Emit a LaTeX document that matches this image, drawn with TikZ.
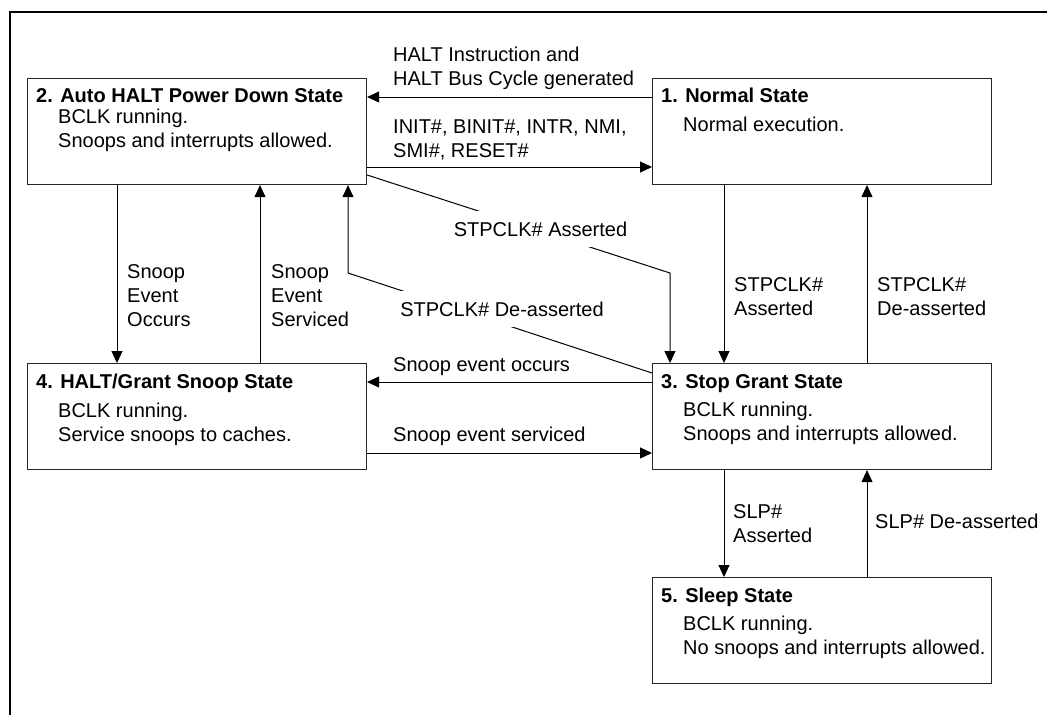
\documentclass[tikz,border=0pt]{standalone}
\usepackage{fontspec}
\setmainfont{Liberation Sans}
\usetikzlibrary{positioning, arrows.meta}

\begin{document}
\begin{tikzpicture}[x=1pt, y=-1pt,
  every node/.style={font=\fontsize{20}{24}\selectfont, inner sep=0pt},
  statebox/.style={draw=black!85, line width=1.1pt, minimum width=339pt,
    minimum height=106pt, anchor=north west},
  title/.style={font=\fontsize{20}{24}\selectfont\bfseries, anchor=base west},
  body/.style={align=left, anchor=base west},
  flow/.style={line width=1pt, -{Triangle[length=12pt, width=11pt]}},
  onflow/.style={fill=white, minimum height=36pt, inner xsep=2pt}]
\useasboundingbox (0,0) rectangle (1047,715);

% outer frame
\draw[line width=2pt] (10,715) -- (10,12) -- (1047,12);

% states (multi-line texts sit on the baseline of their last line)
\node[statebox] (s2) at (27,78) {};
\node[title] (s2t) at (36,102) {2. Auto HALT Power Down State};
\node[body] (s2b) at (58,147) {BCLK running.\\Snoops and interrupts allowed.};

\node[statebox] (s1) at (652,78) {};
\node[title] (s1t) at (661,102) {1. Normal State};
\node[body] (s1b) at (683,131) {Normal execution.};

\node[statebox] (s4) at (27,363) {};
\node[title] (s4t) at (36,388) {4. HALT/Grant Snoop State};
\node[body] (s4b) at (58,441) {BCLK running.\\Service snoops to caches.};

\node[statebox] (s3) at (652,363) {};
\node[title] (s3t) at (661,388) {3. Stop Grant State};
\node[body] (s3b) at (683,440) {BCLK running.\\Snoops and interrupts allowed.};

\node[statebox] (s5) at (652,577) {};
\node[title] (s5t) at (661,602) {5. Sleep State};
\node[body] (s5b) at (683,654) {BCLK running.\\No snoops and interrupts allowed.};

% horizontal transitions
\draw[flow] ([yshift=-19pt]s1.north west) -- ([yshift=-19pt]s2.north east);
\draw[flow] ([yshift=-89pt]s2.north east) -- ([yshift=-89pt]s1.north west);
\draw[flow] ([yshift=-19pt]s3.north west) -- ([yshift=-19pt]s4.north east);
\draw[flow] ([yshift=-90pt]s4.north east) -- ([yshift=-90pt]s3.north west);

% vertical transitions
\draw[flow] ([xshift=90pt]s2.south west) -- ([xshift=90pt]s4.north west);
\draw[flow] ([xshift=233pt]s4.north west) -- ([xshift=233pt]s2.south west);
\draw[flow] ([xshift=72pt]s1.south west) -- ([xshift=72pt]s3.north west);
\draw[flow] ([xshift=215pt]s3.north west) -- ([xshift=215pt]s1.south west);
\draw[flow] ([xshift=72pt]s3.south west) -- ([xshift=72pt]s5.north west);
\draw[flow] ([xshift=215pt]s5.north west) -- ([xshift=215pt]s3.south west);

% diagonal transitions
\coordinate (ka) at (670,273);
\coordinate (kd) at (348,273);
\draw[flow] ([yshift=-97pt]s2.north east) -- (ka) -- (ka |- s3.north);
\draw[flow] ([yshift=-10pt]s3.north west) -- (kd) -- (kd |- s2.south);
\node[onflow] (la) at (540.5,229) {STPCLK\# Asserted};
\node[onflow] (ld) at (502,309) {STPCLK\# De-asserted};

% transition labels
\node[body] (lhalt) at (393,85) {HALT Instruction and\\HALT Bus Cycle generated};
\node[body] (linit) at (393,157) {INIT\#, BINIT\#, INTR, NMI,\\SMI\#, RESET\#};
\node[body] (lsoc) at (393,371) {Snoop event occurs};
\node[body] (lsse) at (393,441) {Snoop event serviced};
\node[body] (lseo) at (127,326) {Snoop\\Event\\Occurs};
\node[body] (lses) at (271,326) {Snoop\\Event\\Serviced};
\node[body] (lsta) at (734,315) {STPCLK\#\\Asserted};
\node[body] (lstd) at (877,315) {STPCLK\#\\De-asserted};
\node[body] (lslpa) at (733,542) {SLP\#\\Asserted};
\node[body] (lslpd) at (875,528) {SLP\# De-asserted};
\end{tikzpicture}
\end{document}
